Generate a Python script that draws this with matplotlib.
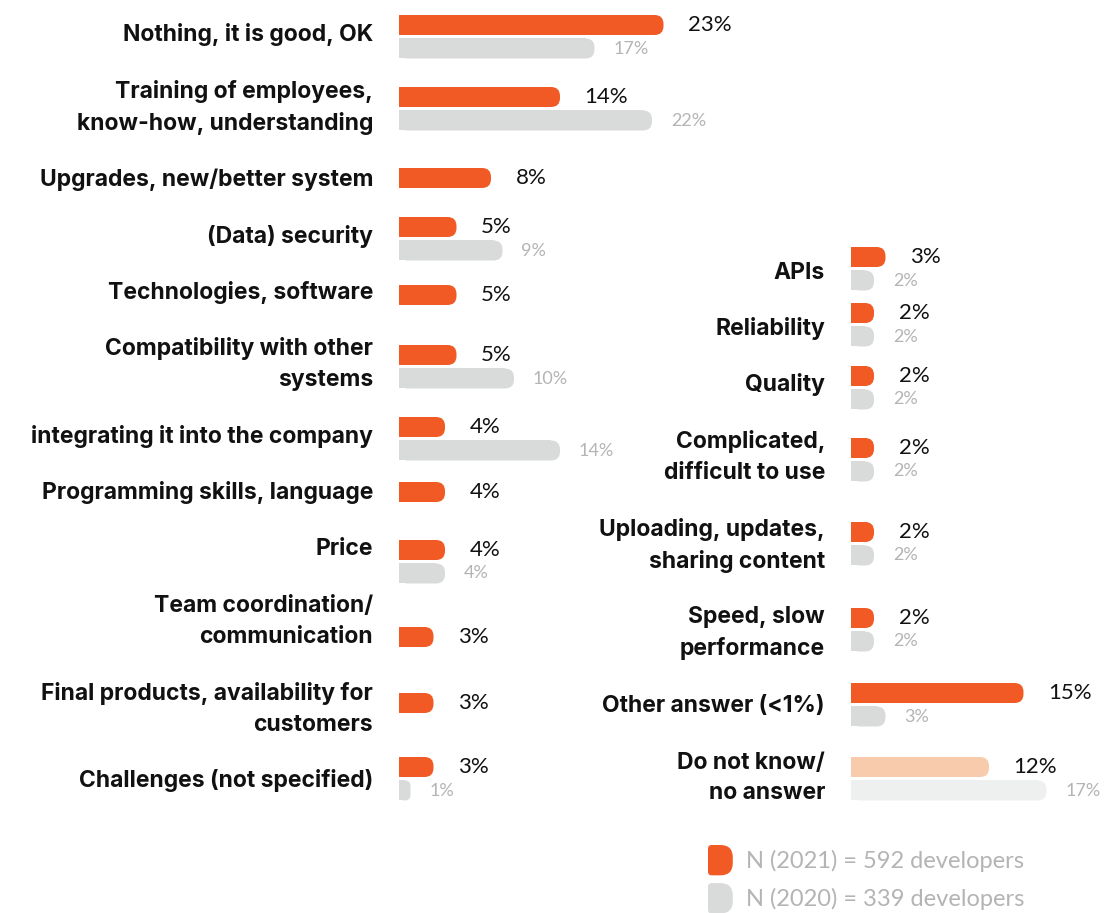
import matplotlib.pyplot as plt
from matplotlib.patches import FancyBboxPatch, Patch, PathPatch
from matplotlib.path import Path
from matplotlib.legend_handler import HandlerPatch

# survey answers, share of respondents in %
LEFT_LABELS = [
    "Nothing, it is good, OK",
    "Training of employees,\nknow-how, understanding",
    "Upgrades, new/better system",
    "(Data) security",
    "Technologies, software",
    "Compatibility with other\nsystems",
    "integrating it into the company",
    "Programming skills, language",
    "Price",
    "Team coordination/\ncommunication",
    "Final products, availability for\ncustomers",
    "Challenges (not specified)",
]
LEFT_2021 = [23, 14, 8, 5, 5, 5, 4, 4, 4, 3, 3, 3]
LEFT_2020 = [17, 22, None, 9, None, 10, 14, None, 4, None, None, 1]

RIGHT_LABELS = [
    "APIs",
    "Reliability",
    "Quality",
    "Complicated,\ndifficult to use",
    "Uploading, updates,\nsharing content",
    "Speed, slow\nperformance",
    "Other answer (<1%)",
    "Do not know/\nno answer",
]
RIGHT_2021 = [3, 2, 2, 2, 2, 2, 15, 12]
RIGHT_2020 = [2, 2, 2, 2, 2, 2, 3, 17]

LEGEND_LABELS = ["N (2021) = 592 developers", "N (2020) = 339 developers"]

# row layout (pixels from the top of the figure)
LEFT_BAR_Y = [25, 97, 178, 227, 295, 355, 427, 492, 550, 637, 703, 767]
LEFT_LABEL_Y = [33, 105.5, 178, 234, 290, 362, 435, 491, 547, 619.5, 707, 779]
RIGHT_BAR_Y = [257, 313, 376, 448, 532, 618, 693, 767]
RIGHT_LABEL_Y = [271, 327, 383, 455, 543.5, 631, 704, 776]

ORANGE = "#F15A24"
GRAY = "#D9DBDA"
ORANGE_LIGHT = "#F8CBAD"
GRAY_LIGHT = "#EEF0EF"
TEXT_GRAY = "#B3B4B3"

W, H = 1104, 913
PX_PER_PCT = 11.5
BAR_H = 20
PAIR_GAP = 23.5
RADIUS_PX = 9

LABEL_FONT = "Inter"
VALUE_FONT = "Lato"


def rounded_bar(ax, y, value, color):
    r = min(RADIUS_PX / PX_PER_PCT, value / 2)
    patch = FancyBboxPatch((0, y - BAR_H / 2), value, BAR_H,
                           boxstyle=f"round,pad=0,rounding_size={r}",
                           mutation_aspect=PX_PER_PCT,
                           facecolor=color, edgecolor="none")
    ax.add_patch(patch)
    # square off the left end
    ax.barh(y, value - r, height=BAR_H, left=0, color=color, linewidth=0)


def draw_panel(ax, labels, v21, v20, bar_y, label_y, light_last=False):
    for i, (lab, a, b) in enumerate(zip(labels, v21, v20)):
        y = bar_y[i]
        c21, c20 = ORANGE, GRAY
        if light_last and i == len(labels) - 1:
            c21, c20 = ORANGE_LIGHT, GRAY_LIGHT
        rounded_bar(ax, y, a, c21)
        ax.annotate(f"{a}%", xy=(a, y), xytext=(24.5, 0), textcoords="offset pixels",
                    ha="left", va="center", fontsize=16, color="#111111",
                    family=VALUE_FONT, annotation_clip=False)
        if b is not None:
            y2 = y + PAIR_GAP
            rounded_bar(ax, y2, b, c20)
            ax.annotate(f"{b}%", xy=(b, y2), xytext=(19, 0), textcoords="offset pixels",
                        ha="left", va="center", fontsize=13, color=TEXT_GRAY,
                        family=VALUE_FONT, annotation_clip=False)
        ax.annotate(lab, xy=(0, label_y[i]), xytext=(-26, -2), textcoords="offset pixels",
                    ha="right", va="center", fontsize=16.5, fontweight="bold",
                    family=LABEL_FONT, color="#111111", linespacing=1.5,
                    multialignment="right", annotation_clip=False)


fig = plt.figure(figsize=(W / 100, H / 100), dpi=100)
fig.patch.set_facecolor("white")

ax_l = fig.add_axes([399 / W, 0, 300 / W, 1])
ax_l.set_xlim(0, 300 / PX_PER_PCT)
ax_r = fig.add_axes([851 / W, 0, 253 / W, 1])
ax_r.set_xlim(0, 253 / PX_PER_PCT)
for ax in (ax_l, ax_r):
    ax.set_ylim(H, 0)
    ax.axis("off")

draw_panel(ax_l, LEFT_LABELS, LEFT_2021, LEFT_2020, LEFT_BAR_Y, LEFT_LABEL_Y)
draw_panel(ax_r, RIGHT_LABELS, RIGHT_2021, RIGHT_2020, RIGHT_BAR_Y, RIGHT_LABEL_Y,
           light_last=True)


def legend_patch(legend, orig_handle, xdescent, ydescent, width, height, fontsize):
    # square-ish left side, fully rounded right side
    x0, y0, w, h = -xdescent, -ydescent, width, height
    rl, rr = 0.15 * w, 0.5 * w
    verts = [(x0 + rl, y0), (x0 + w - rr, y0), (x0 + w, y0), (x0 + w, y0 + rr),
             (x0 + w, y0 + h - rr), (x0 + w, y0 + h), (x0 + w - rr, y0 + h),
             (x0 + rl, y0 + h), (x0, y0 + h), (x0, y0 + h - rl),
             (x0, y0 + rl), (x0, y0), (x0 + rl, y0), (x0 + rl, y0)]
    codes = [Path.MOVETO, Path.LINETO, Path.CURVE3, Path.CURVE3,
             Path.LINETO, Path.CURVE3, Path.CURVE3,
             Path.LINETO, Path.CURVE3, Path.CURVE3,
             Path.LINETO, Path.CURVE3, Path.CURVE3, Path.CLOSEPOLY]
    return PathPatch(Path(verts, codes))


handles = [Patch(facecolor=ORANGE, edgecolor="none"),
           Patch(facecolor=GRAY, edgecolor="none")]
fig.legend(handles, LEGEND_LABELS, loc="upper left",
           bbox_to_anchor=(708 / W, 1 - 845 / H), frameon=False,
           borderpad=0, borderaxespad=0, handlelength=1.05, handleheight=1.6,
           handletextpad=0.55, labelspacing=0.33,
           prop={"family": VALUE_FONT, "size": 17}, labelcolor=TEXT_GRAY,
           handler_map={Patch: HandlerPatch(patch_func=legend_patch)})

fig.savefig("out.png", dpi=100, facecolor="white")
